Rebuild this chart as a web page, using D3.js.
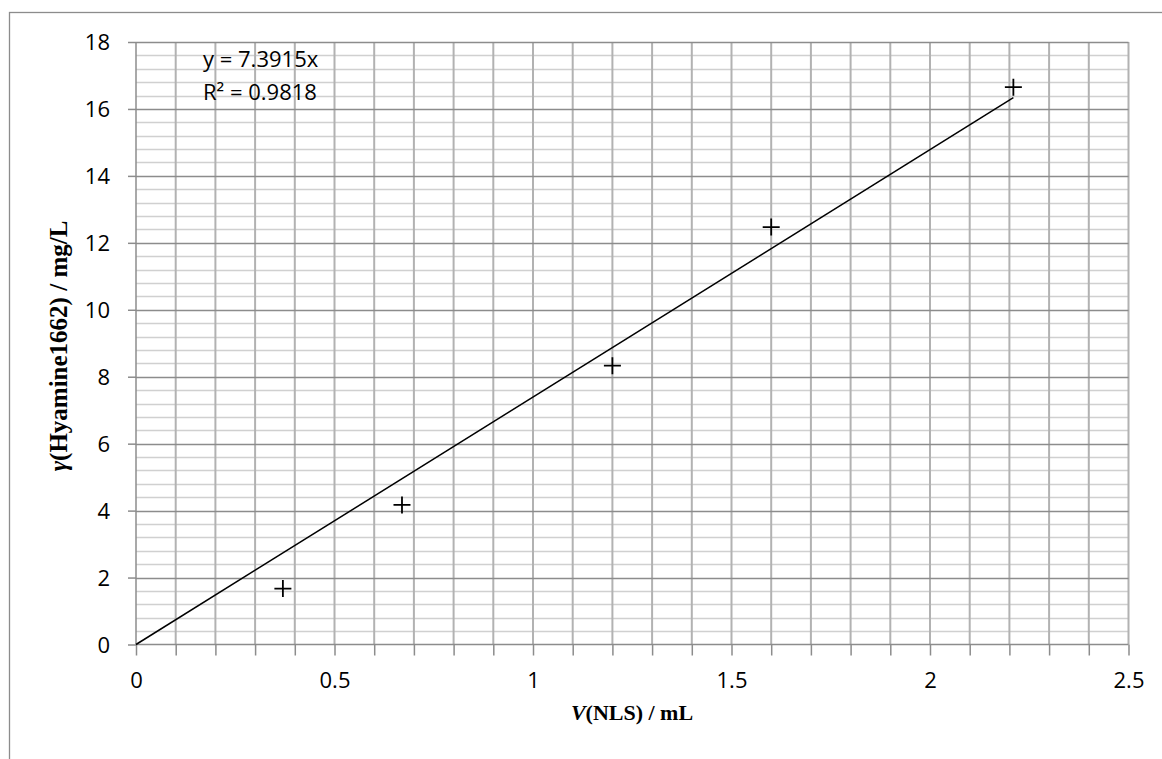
<!DOCTYPE html>
<html><head><meta charset="utf-8">
<script src="https://cdn.jsdelivr.net/npm/d3@7"></script>
<style>body{margin:0;background:#fff}svg{display:block}</style>
</head><body><svg id="c" width="1162" height="759"></svg>
<script>
const xVals = [0.37, 0.67, 1.2, 1.6, 2.21];
const yVals = [1.67, 4.17, 8.33, 12.47, 16.65];
const slope = 7.3915;
const eqLines = ["y = 7.3915x", "R² = 0.9818"];
const xTicks = [0, 0.5, 1, 1.5, 2, 2.5];
const xTickLabels = ["0", "0.5", "1", "1.5", "2", "2.5"];
const yTicks = [0, 2, 4, 6, 8, 10, 12, 14, 16, 18];

const svg = d3.select("#c");
const L = 136, R = 1128.5, T = 42, B = 644.5;
const x = d3.scaleLinear().domain([0, 2.5]).range([L, R]);
const y = d3.scaleLinear().domain([0, 18]).range([B, T]);
const font = "'Open Sans', 'Liberation Sans', sans-serif";
const serif = "'Liberation Serif', 'Times New Roman', serif";

// outer border
svg.append("rect").attr("x", 9.5).attr("y", 12.5).attr("width", 1200).attr("height", 800)
  .attr("fill", "none").attr("stroke", "#8c8c8c").attr("stroke-width", 1.3);

// minor horizontal grid
const yMinor = d3.range(0, 18.01, 0.4).filter(v => Math.abs(v/2 - Math.round(v/2)) > 1e-6);
svg.append("g").selectAll("line").data(yMinor).join("line")
  .attr("x1", L).attr("x2", R).attr("y1", d => Math.round(y(d)) + 0.5).attr("y2", d => Math.round(y(d)) + 0.5)
  .attr("stroke", "#d0d0d0").attr("stroke-width", 1.5);
// vertical grid
const xMinor = d3.range(0.1, 2.501, 0.1);
svg.append("g").selectAll("line").data(xMinor).join("line")
  .attr("y1", T).attr("y2", B).attr("x1", d => x(d)).attr("x2", d => x(d))
  .attr("stroke", "#b2b2b2").attr("stroke-width", 2);
// major horizontal grid
svg.append("g").selectAll("line").data(yTicks.slice(1)).join("line")
  .attr("x1", L).attr("x2", R).attr("y1", d => Math.round(y(d)) + 0.5).attr("y2", d => Math.round(y(d)) + 0.5)
  .attr("stroke", "#8c8c8c").attr("stroke-width", 1.3);

// axes
const yAxis = d3.axisLeft(y).tickValues(yTicks).tickSize(8).tickPadding(18).tickFormat(d3.format("d"));
const gy = svg.append("g").attr("transform", `translate(${L},0)`).call(yAxis);
const xAxis = d3.axisBottom(x).tickValues(d3.range(0, 2.501, 0.1)).tickSize(11).tickPadding(17)
  .tickFormat((d) => { const i = xTicks.findIndex(t => Math.abs(t - d) < 1e-6); return i >= 0 ? xTickLabels[i] : ""; });
const gx = svg.append("g").attr("transform", `translate(0,${B})`).call(xAxis);
[gx, gy].forEach(g => {
  g.attr("font-family", font).attr("font-size", 22);
  g.select(".domain").attr("stroke", "#8c8c8c").attr("stroke-width", 1.5);
  g.selectAll(".tick line").attr("stroke", "#8c8c8c").attr("stroke-width", 1.5);
  g.selectAll("text").attr("fill", "#000");
});
gy.selectAll("text").attr("dy", "0.36em");
gx.select(".domain").attr("d", `M${L},0H${R}`);
gy.select(".domain").attr("d", `M0,${B}V${T}`);

// trendline
const xmax = d3.max(xVals);
svg.append("line").attr("x1", x(0)).attr("y1", y(0)).attr("x2", x(xmax)).attr("y2", y(slope * xmax))
  .attr("stroke", "#000").attr("stroke-width", 1.5);

// markers
const s = 8.5;
svg.append("g").selectAll("path").data(xVals.map((v, i) => [v, yVals[i]])).join("path")
  .attr("d", d => `M${x(d[0]) - s},${y(d[1])}h${2*s}M${x(d[0])},${y(d[1]) - s}v${2*s}`)
  .attr("stroke", "#000").attr("stroke-width", 1.8).attr("fill", "none");

// equation
svg.append("g").selectAll("text").data(eqLines).join("text")
  .attr("x", 203).attr("y", (d, i) => 67 + i * 33)
  .attr("font-family", font).attr("font-size", 22).attr("fill", "#000").text(d => d);

// axis titles
const xt = svg.append("text").attr("x", 632).attr("y", 720).attr("text-anchor", "middle")
  .attr("font-family", serif).attr("font-size", 22).attr("font-weight", "bold");
xt.append("tspan").attr("font-style", "italic").text("V");
xt.append("tspan").text("(NLS) / mL");

const yt = svg.append("text").attr("transform", "translate(67,346) rotate(-90)").attr("text-anchor", "middle")
  .attr("font-family", serif).attr("font-size", 25).attr("font-weight", "bold");
yt.append("tspan").attr("font-style", "italic").text("γ");
yt.append("tspan").text("(Hyamine1662) / mg/L");
</script></body></html>
